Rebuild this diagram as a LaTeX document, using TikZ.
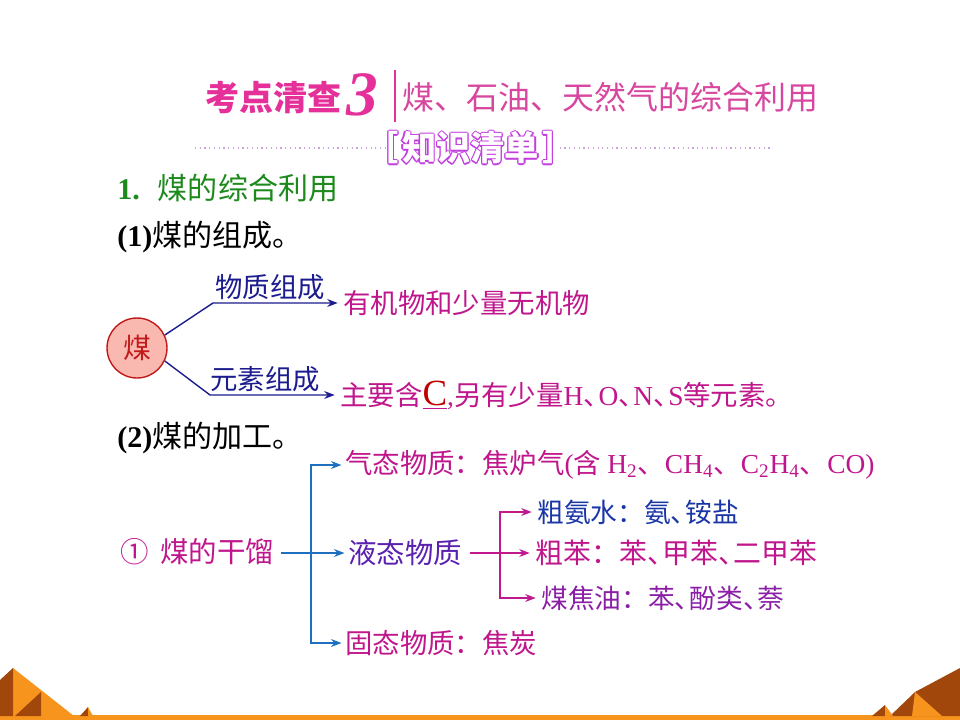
\documentclass[tikz,border=0pt]{standalone}
\usepackage{fontspec}
\setmainfont{Noto Sans CJK SC}
\newfontfamily\lat{Liberation Serif}
\usetikzlibrary{arrows.meta, positioning}

\definecolor{titlepink}{HTML}{E5309A}
\definecolor{subpink}{HTML}{D8479F}
\definecolor{hollowpurple}{HTML}{C23FDF}
\definecolor{dotpurple}{HTML}{C8A6D8}
\definecolor{headgreen}{HTML}{1E8A1E}
\definecolor{coalred}{HTML}{C21A1A}
\definecolor{coalfill}{HTML}{F9B9B0}
\definecolor{labelblue}{HTML}{1C1C8E}
\definecolor{targetpink}{HTML}{C0168C}
\definecolor{arrowblue}{HTML}{1F6FC0}
\definecolor{liquidpurple}{HTML}{5A20B0}
\definecolor{branchpink}{HTML}{C2188E}
\definecolor{ammoniablue}{HTML}{1A36A6}
\definecolor{tarpurple}{HTML}{8A1FA6}
\definecolor{cred}{HTML}{C00000}
\definecolor{hillorange}{HTML}{F7941D}
\definecolor{hillbrown}{HTML}{A2470B}

% hollow letters for the bracket heading
\newcommand\hollowtext[1]{%
  \makebox[0pt][l]{\hspace{-0.7pt}\textcolor{hollowpurple}{#1}}%
  \makebox[0pt][l]{\hspace{0.7pt}\textcolor{hollowpurple}{#1}}%
  \makebox[0pt][l]{\raisebox{0.7pt}{\textcolor{hollowpurple}{#1}}}%
  \makebox[0pt][l]{\raisebox{-0.7pt}{\textcolor{hollowpurple}{#1}}}%
  \makebox[0pt][l]{\hspace{0.5pt}\raisebox{0.5pt}{\textcolor{hollowpurple}{#1}}}%
  \makebox[0pt][l]{\hspace{-0.5pt}\raisebox{-0.5pt}{\textcolor{hollowpurple}{#1}}}%
  \makebox[0pt][l]{\hspace{0.5pt}\raisebox{-0.5pt}{\textcolor{hollowpurple}{#1}}}%
  \makebox[0pt][l]{\hspace{-0.5pt}\raisebox{0.5pt}{\textcolor{hollowpurple}{#1}}}%
  \textcolor{white}{#1}}
\newcommand\dun{\makebox[0.55em][l]{、}}

\begin{document}
\begin{tikzpicture}[
    x=0.02cm, y=-0.02cm,
    txt/.style={inner sep=0pt, anchor=west, font=\fontsize{15.6}{16}\selectfont},
    lbl/.style={inner sep=0pt, text=labelblue, font=\fontsize{15.6}{16}\selectfont},
    kline/.style={draw=labelblue, line width=0.8pt, -{Stealth[length=6pt, width=4.5pt]}, shorten >=3pt},
    barrow/.style={draw=arrowblue, line width=0.8pt, -{Stealth[length=6pt, width=4.5pt]}, shorten >=2pt},
    marrow/.style={draw=branchpink, line width=0.8pt, -{Stealth[length=6pt, width=4.5pt]}, shorten >=3pt},
    hill/.style={fill=hillorange, draw=none},
    shade/.style={fill=hillbrown, draw=none}
]
\useasboundingbox (0,0) rectangle (960,720);

% heading
\node[txt, text=titlepink, font=\fontsize{19.4}{20}\bfseries] (kd) at (205,98) {考点清查};
\node[txt, text=titlepink, font=\lat\fontsize{36}{36}\bfseries\itshape] (three) at (346,95) {3};
\coordinate (bartop) at (395,70);
\coordinate (barbot) at (395,122);
\draw[titlepink, line width=1.2pt] (bartop) -- (barbot);
\node[txt, text=subpink, font=\fontsize{18.2}{19}\selectfont] (topic) at (402,97) {煤、石油、天然气的综合利用};

\node[txt, font=\fontsize{19.5}{20}\bfseries] (list) at (364,148) {\hollowtext{［\hspace{0.1em}知识清单\hspace{0.1em}］}};
\coordinate (dotl) at (195,148);
\coordinate (dotr) at (770,148);
\draw[dotpurple, dotted, line width=0.7pt] (dotl) -- ([xshift=14pt]list.west);
\draw[dotpurple, dotted, line width=0.7pt] ([xshift=-10pt]list.east) -- (dotr);

\node[txt, text=headgreen, font=\fontsize{17.1}{18}\selectfont] (sec1) at (117,188) {{\lat\bfseries 1.}\hspace{0.6em}煤的综合利用};
\node[txt, font=\fontsize{17.1}{18}\selectfont] (sub1) at (117,237) {{\lat\bfseries (1)}煤的组成。};

% composition
\node[circle, draw=coalred, fill=coalfill, line width=0.8pt, minimum size=1.2cm, inner sep=0pt,
      text=coalred, font=\fontsize{15.9}{16}\selectfont] (coal) at (137,348) {煤};
\node[txt, text=targetpink] (organic) at (343,303) {有机物和少量无机物};
\node[txt, text=targetpink] (element) at (340,395)
  {主要含\textcolor{targetpink}{\underline{\textcolor{cred}{\lat\fontsize{21}{21}\selectfont C}}}{\lat ,}另有少量{\lat H}\dun{\lat O}\dun{\lat N}\dun{\lat S}等元素。};
\coordinate (k1) at (213,303);
\coordinate (k2) at (210,395);
\draw[kline] (coal.25) -- (k1) -- (organic.west);
\draw[kline] (coal.-25) -- (k2) -- (element.west);
\node[lbl] (matlab) at (270,287) {物质组成};
\node[lbl] (elelab) at (265,379) {元素组成};

\node[txt, font=\fontsize{17.1}{18}\selectfont] (sub2) at (117,438) {{\lat\bfseries (2)}煤的加工。};

% dry distillation
\node[txt, text=targetpink, font=\fontsize{16.2}{17}\selectfont] (dry) at (120,552) {①\hspace{0.4em}煤的干馏};
\node[txt, text=targetpink] (gas) at (345,465)
  {气态物质：焦炉气{\lat (}含 {\lat H\textsubscript{2}}、{\lat CH\textsubscript{4}}、{\lat C\textsubscript{2}H\textsubscript{4}}、{\lat CO)}};
\node[txt, text=liquidpurple, font=\fontsize{16.2}{17}\selectfont] (liquid) at (348,553) {液态物质};
\node[txt, text=targetpink] (solid) at (345,643) {固态物质：焦炭};
\coordinate (fork) at (311,553);
\draw[barrow, shorten <=4pt] (dry.east |- fork) -- (liquid.west);
\draw[barrow] (fork) |- (gas.west);
\draw[barrow] (fork) |- (solid.west);

\node[txt, text=ammoniablue, font=\fontsize{15.2}{16}\selectfont] (ammonia) at (537,512) {粗氨水：氨\dun 铵盐};
\node[txt, text=targetpink, font=\fontsize{15.9}{16}\selectfont] (benzol) at (535,553) {粗苯：苯\dun 甲苯\dun 二甲苯};
\node[txt, text=tarpurple, font=\fontsize{15.2}{16}\selectfont] (tar) at (541,598) {煤焦油：苯\dun 酚类\dun 萘};
\coordinate (fork2) at (500,553);
\draw[marrow, shorten <=4pt] (liquid.east) -- (benzol.west);
\draw[marrow] (fork2) |- (ammonia.west);
\draw[marrow] (fork2) |- (tar.west);

% bottom strip
\fill[hillorange] (0,715) rectangle (960,720);
\fill[hill] (-5,716) -- (13,668) -- (74,716) -- cycle;
\fill[shade] (0,716) -- (0,680) -- (13,668) -- (13,716) -- cycle;
\fill[shade] (15,716) -- (41,692) -- (41,716) -- cycle;
\fill[shade] (80,716) -- (88,707) -- (88,716) -- cycle;
\fill[hill] (88,707) -- (93,716) -- (88,716) -- cycle;
\fill[shade] (890,716) -- (915,692) -- (960,668) -- (960,716) -- cycle;
\fill[hill] (915,692) -- (942,716) -- (912,716) -- cycle;
\fill[shade] (872,716) -- (885,705) -- (885,716) -- cycle;
\fill[hill] (885,705) -- (893,716) -- (885,716) -- cycle;
\end{tikzpicture}
\end{document}
